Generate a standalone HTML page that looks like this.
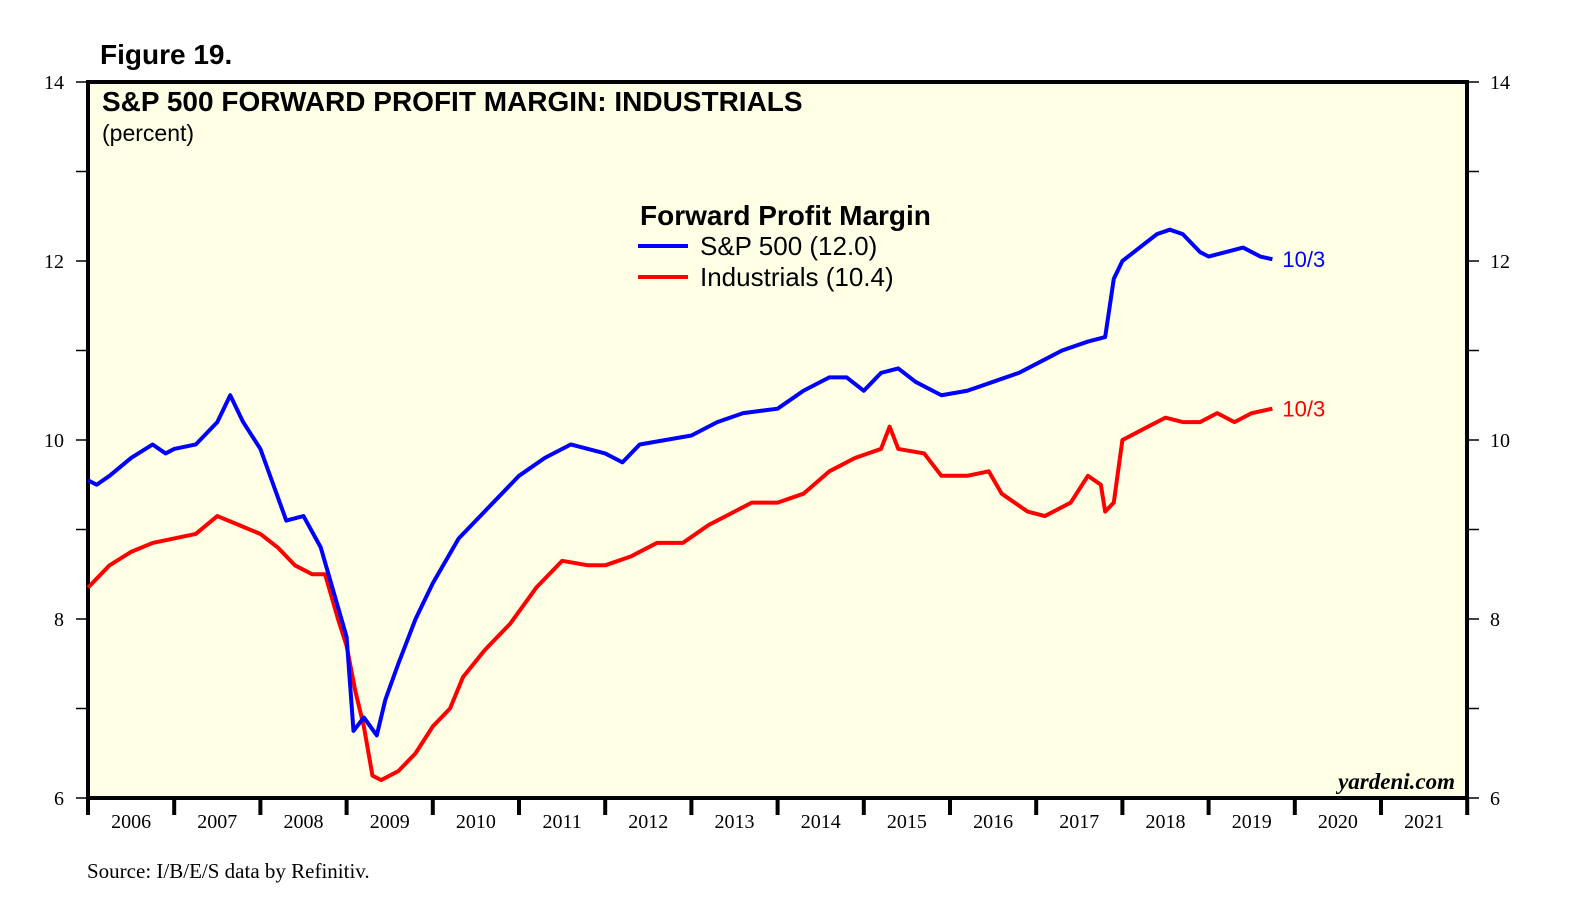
<!DOCTYPE html>
<html><head><meta charset="utf-8"><style>
body{margin:0;background:#fff;}
svg{display:block;font-family:"Liberation Sans",sans-serif;}
</style></head><body>
<svg id="c" width="1581" height="906">
<text x="100" y="64" font-size="28" font-weight="bold">Figure 19.</text>
<rect x="88" y="82" width="1379" height="716" fill="#ffffe6" stroke="#000" stroke-width="4"/>
<text x="102" y="111" font-size="28" font-weight="bold">S&amp;P 500 FORWARD PROFIT MARGIN: INDUSTRIALS</text>
<text x="102" y="141" font-size="23">(percent)</text>
<g>
<text x="640" y="225" font-size="28" font-weight="bold">Forward Profit Margin</text>
<line x1="638" y1="246" x2="688" y2="246" stroke="#0000ff" stroke-width="4"/>
<text x="700" y="255" font-size="26">S&amp;P 500 (12.0)</text>
<line x1="638" y1="277" x2="688" y2="277" stroke="#ff0000" stroke-width="4"/>
<text x="700" y="286" font-size="26">Industrials (10.4)</text>
</g>
<text x="1455" y="789" font-size="23" font-weight="bold" font-style="italic" text-anchor="end" font-family="Liberation Serif,serif">yardeni.com</text>
<text x="87" y="878" font-size="21" font-family="Liberation Serif,serif">Source: I/B/E/S data by Refinitiv.</text>
<g id="axes"></g>
<g id="series"></g>
</svg>
<script>
const yTicks=[6,8,10,12,14];
const years=[2006,2007,2008,2009,2010,2011,2012,2013,2014,2015,2016,2017,2018,2019,2020,2021];
const spT=[2006.0,2006.1,2006.25,2006.5,2006.75,2006.9,2007.0,2007.25,2007.5,2007.65,2007.8,2008.0,2008.15,2008.3,2008.5,2008.7,2008.85,2009.0,2009.08,2009.2,2009.35,2009.45,2009.6,2009.8,2010.0,2010.3,2010.6,2011.0,2011.3,2011.6,2012.0,2012.2,2012.4,2012.7,2013.0,2013.3,2013.6,2014.0,2014.3,2014.6,2014.8,2015.0,2015.2,2015.4,2015.6,2015.9,2016.2,2016.5,2016.8,2017.0,2017.3,2017.6,2017.8,2017.9,2018.0,2018.2,2018.4,2018.55,2018.7,2018.9,2019.0,2019.2,2019.4,2019.6,2019.74];
const spV=[9.55,9.5,9.6,9.8,9.95,9.85,9.9,9.95,10.2,10.5,10.2,9.9,9.5,9.1,9.15,8.8,8.3,7.8,6.75,6.9,6.7,7.1,7.5,8.0,8.4,8.9,9.2,9.6,9.8,9.95,9.85,9.75,9.95,10.0,10.05,10.2,10.3,10.35,10.55,10.7,10.7,10.55,10.75,10.8,10.65,10.5,10.55,10.65,10.75,10.85,11.0,11.1,11.15,11.8,12.0,12.15,12.3,12.35,12.3,12.1,12.05,12.1,12.15,12.05,12.02];
const inT=[2006.0,2006.25,2006.5,2006.75,2007.0,2007.25,2007.5,2007.75,2008.0,2008.2,2008.4,2008.6,2008.75,2008.9,2009.0,2009.1,2009.2,2009.3,2009.4,2009.6,2009.8,2010.0,2010.2,2010.35,2010.6,2010.9,2011.2,2011.5,2011.8,2012.0,2012.3,2012.6,2012.9,2013.2,2013.5,2013.7,2014.0,2014.3,2014.6,2014.9,2015.2,2015.3,2015.4,2015.7,2015.9,2016.2,2016.45,2016.6,2016.9,2017.1,2017.4,2017.6,2017.75,2017.8,2017.9,2018.0,2018.2,2018.5,2018.7,2018.9,2019.1,2019.3,2019.5,2019.74];
const inV=[8.35,8.6,8.75,8.85,8.9,8.95,9.15,9.05,8.95,8.8,8.6,8.5,8.5,8.0,7.7,7.2,6.8,6.25,6.2,6.3,6.5,6.8,7.0,7.35,7.65,7.95,8.35,8.65,8.6,8.6,8.7,8.85,8.85,9.05,9.2,9.3,9.3,9.4,9.65,9.8,9.9,10.15,9.9,9.85,9.6,9.6,9.65,9.4,9.2,9.15,9.3,9.6,9.5,9.2,9.3,10.0,10.1,10.25,10.2,10.2,10.3,10.2,10.3,10.35];
const NS='http://www.w3.org/2000/svg';
const X=t=>88+86.2*(t-2006);
const Y=v=>798-(v-6)*89.5;
function mk(tag,attrs,parent){const e=document.createElementNS(NS,tag);for(const k in attrs)e.setAttribute(k,attrs[k]);parent.appendChild(e);return e;}
const ax=document.getElementById('axes');
yTicks.forEach(v=>{
 [[64,'end'],[1490,'start']].forEach(([x,a],i)=>{
  const t=mk('text',{x:x,y:Y(v)+7,'font-size':20,'text-anchor':a,'font-family':'Liberation Serif,serif'},ax);
  t.textContent=v;
  
  
 });
});
for(let v=6;v<=14;v++){
 const l=mk('line',{x1:76,x2:88,y1:Y(v),y2:Y(v),stroke:'#000','stroke-width':1.5},ax);
 
 
 const r=mk('line',{x1:1467,x2:1479,y1:Y(v),y2:Y(v),stroke:'#000','stroke-width':1.5},ax);
 
 
}
years.forEach(yr=>{
 const tk=mk('line',{x1:X(yr),x2:X(yr),y1:798,y2:815,stroke:'#000','stroke-width':4},ax);
 
 
 const t=mk('text',{x:X(yr+0.5),y:828,'font-size':20,'text-anchor':'middle','font-family':'Liberation Serif,serif'},ax);
 t.textContent=yr;
 
 
});
const tk=mk('line',{x1:X(2022),x2:X(2022),y1:798,y2:815,stroke:'#000','stroke-width':4},ax);


const sg=document.getElementById('series');
function line(T,V,col,name,lbl){
 const p=mk('polyline',{points:T.map((t,i)=>X(t)+','+Y(V[i])).join(' '),fill:'none',stroke:col,'stroke-width':4,'stroke-linejoin':'round'},sg);
 
 
 const n=T.length-1;
 const t=mk('text',{x:X(T[n])+10,y:Y(V[n])+8,'font-size':22,fill:col},sg);
 t.textContent=lbl;
 
 
}
line(inT,inV,'#ff0000','industrials-line','10/3');
line(spT,spV,'#0000ff','sp500-line','10/3');
</script>
</body></html>
